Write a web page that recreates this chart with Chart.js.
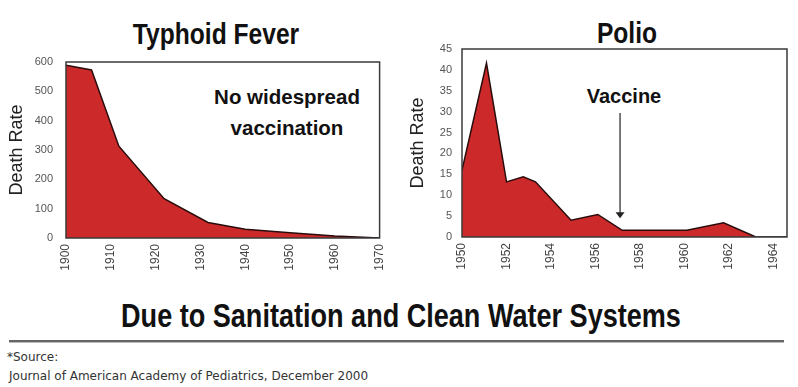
<!DOCTYPE html>
<html>
<head>
<meta charset="utf-8">
<script src="https://cdn.jsdelivr.net/npm/chart.js@4"></script>
<style>
  body { margin:0; background:#fff; width:798px; height:387px; overflow:hidden; position:relative;
         font-family:"Liberation Sans", Arial, sans-serif; }
  .box { position:absolute; }
  .t { position:absolute; white-space:nowrap; color:#111; line-height:1; transform:translate(-50%,-50%); }
  .narrow { font-weight:bold; transform:translate(-50%,-50%) scaleX(0.82); }
  .src { position:absolute; white-space:nowrap; color:#333; line-height:1; transform:translate(0,-50%);
         font-family:"DejaVu Sans", sans-serif; font-size:12px; }
  #rule { position:absolute; left:9px; top:340px; width:775px; height:2px; background:#666; border-bottom:1px solid #bbb; }
</style>
</head>
<body>

<div class="t narrow" style="left:216px; top:34px; font-size:30px;">Typhoid Fever</div>
<div class="t narrow" style="left:627px; top:33px; font-size:30px;">Polio</div>
<div class="t" style="left:287px; top:97px; font-size:20.5px; font-weight:bold;">No widespread</div>
<div class="t" style="left:287px; top:128px; font-size:20.5px; font-weight:bold;">vaccination</div>
<div class="t" style="left:624px; top:96px; font-size:20px; font-weight:bold;">Vaccine</div>

<div class="box" style="left:0; top:0; width:400px; height:290px;"><canvas id="typhoid" width="400" height="290"></canvas></div>
<div class="box" style="left:400px; top:0; width:398px; height:290px;"><canvas id="polio" width="398" height="290"></canvas></div>

<div class="t narrow" style="left:401px; top:315px; font-size:33px;">Due to Sanitation and Clean Water Systems</div>
<div id="rule"></div>
<div class="src" style="left:7px; top:357px;">*Source:</div>
<div class="src" style="left:9px; top:376px;">Journal of American Academy of Pediatrics, December 2000</div>

<script>
// typhoid fever death rate
const typhoid_years = [1900, 1905.7, 1911.8, 1921.9, 1931.7, 1940, 1950, 1960, 1970];
const typhoid_rate  = [589, 573, 313, 134, 53, 30, 18, 7, 0];
const typhoid_ticks = [1900, 1910, 1920, 1930, 1940, 1950, 1960, 1970];

// polio death rate
const polio_years = [1950, 1951.1, 1952, 1952.75, 1953.3, 1954.9, 1956.1, 1957.2, 1960.1, 1961.75, 1963.2, 1964.6];
const polio_rate  = [16, 41.6, 13.2, 14.4, 13.2, 4.0, 5.4, 1.6, 1.6, 3.4, 0, 0];
const polio_ticks = [1950, 1952, 1954, 1956, 1958, 1960, 1962, 1964];

// vaccine arrow (year, from rate, to rate)
const vaccine_year = 1957.1;
const vaccine_from = 29.7;
const vaccine_to = 4.5;

const fillRed = 'rgb(204, 42, 42)';
const edge = '#2a0c0c';
const fontName = "'Liberation Sans', Arial, sans-serif";

const framePlugin = {
  id: 'frame',
  afterDatasetsDraw(chart) {
    const a = chart.chartArea;
    const ctx = chart.ctx;
    ctx.save();
    ctx.strokeStyle = '#3a3a3a';
    ctx.lineWidth = 1.5;
    ctx.strokeRect(a.left, a.top, a.right - a.left, a.bottom - a.top);
    ctx.restore();
  }
};

const arrowPlugin = {
  id: 'arrow',
  afterDatasetsDraw(chart) {
    const x = chart.scales.x.getPixelForValue(vaccine_year);
    const y1 = chart.scales.y.getPixelForValue(vaccine_from);
    const y2 = chart.scales.y.getPixelForValue(vaccine_to);
    const ctx = chart.ctx;
    ctx.save();
    ctx.strokeStyle = '#222';
    ctx.fillStyle = '#222';
    ctx.lineWidth = 1.2;
    ctx.beginPath();
    ctx.moveTo(x, y1);
    ctx.lineTo(x, y2 - 5);
    ctx.stroke();
    ctx.beginPath();
    ctx.moveTo(x - 4.5, y2 - 6);
    ctx.lineTo(x + 4.5, y2 - 6);
    ctx.lineTo(x, y2);
    ctx.closePath();
    ctx.fill();
    ctx.restore();
  }
};

function makeChart(id, years, rates, tickYears, opt) {
  const points = years.map((y, i) => ({x: y, y: rates[i]}));
  return new Chart(document.getElementById(id), {
    type: 'line',
    data: {
      datasets: [{
        data: points,
        fill: 'origin',
        backgroundColor: fillRed,
        borderColor: edge,
        borderWidth: 1.5,
        pointRadius: 0,
        tension: 0
      }]
    },
    options: {
      responsive: false,
      animation: false,
      layout: { padding: opt.padding },
      plugins: { legend: { display: false }, tooltip: { enabled: false } },
      scales: {
        x: {
          type: 'linear',
          min: opt.xmin, max: opt.xmax,
          grid: { display: false, drawTicks: false },
          border: { display: false },
          afterBuildTicks: s => { s.ticks = tickYears.map(v => ({value: v})); },
          afterFit: s => { s.height = 40; },
          ticks: {
            autoSkip: false, minRotation: 90, maxRotation: 90, padding: 6,
            color: '#444', font: { family: fontName, size: 12 },
            callback: v => String(v)
          }
        },
        y: {
          min: 0, max: opt.ymax,
          grid: { display: false, drawTicks: false },
          border: { display: false },
          afterFit: s => { s.width = opt.yw; },
          ticks: {
            stepSize: opt.ystep, padding: opt.ypad,
            color: '#555', font: { family: fontName, size: 11 }
          },
          title: {
            display: true, text: 'Death Rate', color: '#222',
            font: { family: fontName, size: 18 },
            padding: { top: opt.tpad, bottom: 0 }
          }
        }
      }
    },
    plugins: opt.plugins
  });
}

makeChart('typhoid', typhoid_years, typhoid_rate, typhoid_ticks, {
  padding: { left: 0, top: 62, right: 12, bottom: 12 },
  xmin: 1900, xmax: 1970, ymax: 600, ystep: 100,
  yw: 66, ypad: 13, tpad: 6, plugins: [framePlugin]
});

makeChart('polio', polio_years, polio_rate, polio_ticks, {
  padding: { left: 2, top: 49, right: 11, bottom: 13 },
  xmin: 1950, xmax: 1964.6, ymax: 45, ystep: 5,
  yw: 60, ypad: 10, tpad: 5, plugins: [framePlugin, arrowPlugin]
});
</script>
</body>
</html>
